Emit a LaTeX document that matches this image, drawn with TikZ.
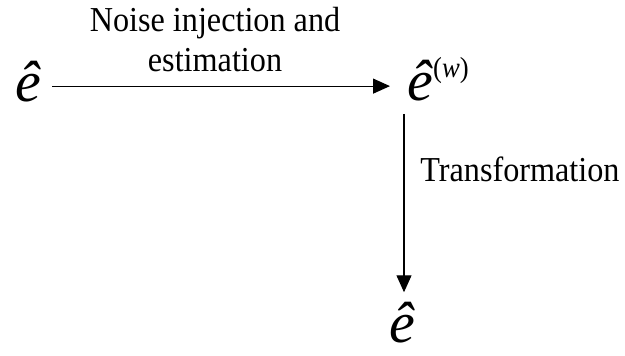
\documentclass[tikz,border=0pt]{standalone}
\usepackage{fontspec}
\setmainfont[FakeStretch=0.92]{Liberation Serif}
\newfontfamily\efont{Liberation Serif}
\usepackage{tikz}
\usetikzlibrary{arrows.meta}
\newcommand{\lblsize}{\fontsize{17.5}{20}\selectfont}
\newcommand{\ehatsym}{{\efont\itshape ê}}
\newcommand{\wsup}{\raisebox{11.5pt}{\fontsize{14.5}{16}\selectfont\upshape(\textit{w})}}

\begin{document}
\begin{tikzpicture}[x=0.5pt, y=-0.5pt,
    flow/.style={-{Triangle[length=8.5pt,width=7.5pt]}, line width=0.6pt},
    sym/.style={font=\fontsize{29}{32}\selectfont, inner sep=0pt, anchor=base},
    lbl/.style={font=\lblsize, align=center, inner sep=0pt}]
  \useasboundingbox (0,0) rectangle (625,356);
  % the three estimates
  \node[sym] (ehat) at (28,102) {\ehatsym};
  \node[sym, anchor=base west] (ehatw) at (407,101) {\ehatsym\wsup};
  \node[sym] (ehatout) at (402,343) {\ehatsym};
  % labels
  \node[lbl, anchor=base] (noise) at (215,72) {Noise injection and\\estimation};
  \node[lbl, anchor=base west] (trans) at (420,182) {Transformation};
  % arrows
  \draw[flow] ([xshift=5.5pt,yshift=-2pt]ehat.east) -- ([xshift=-8.5pt,yshift=-2pt]ehat.east -| ehatw.west);
  \draw[flow] ([xshift=-1.5pt,yshift=-6pt]ehatw.south west) -- ([xshift=-1.5pt,yshift=5pt]ehatw.south west |- ehatout.north);
\end{tikzpicture}
\end{document}
